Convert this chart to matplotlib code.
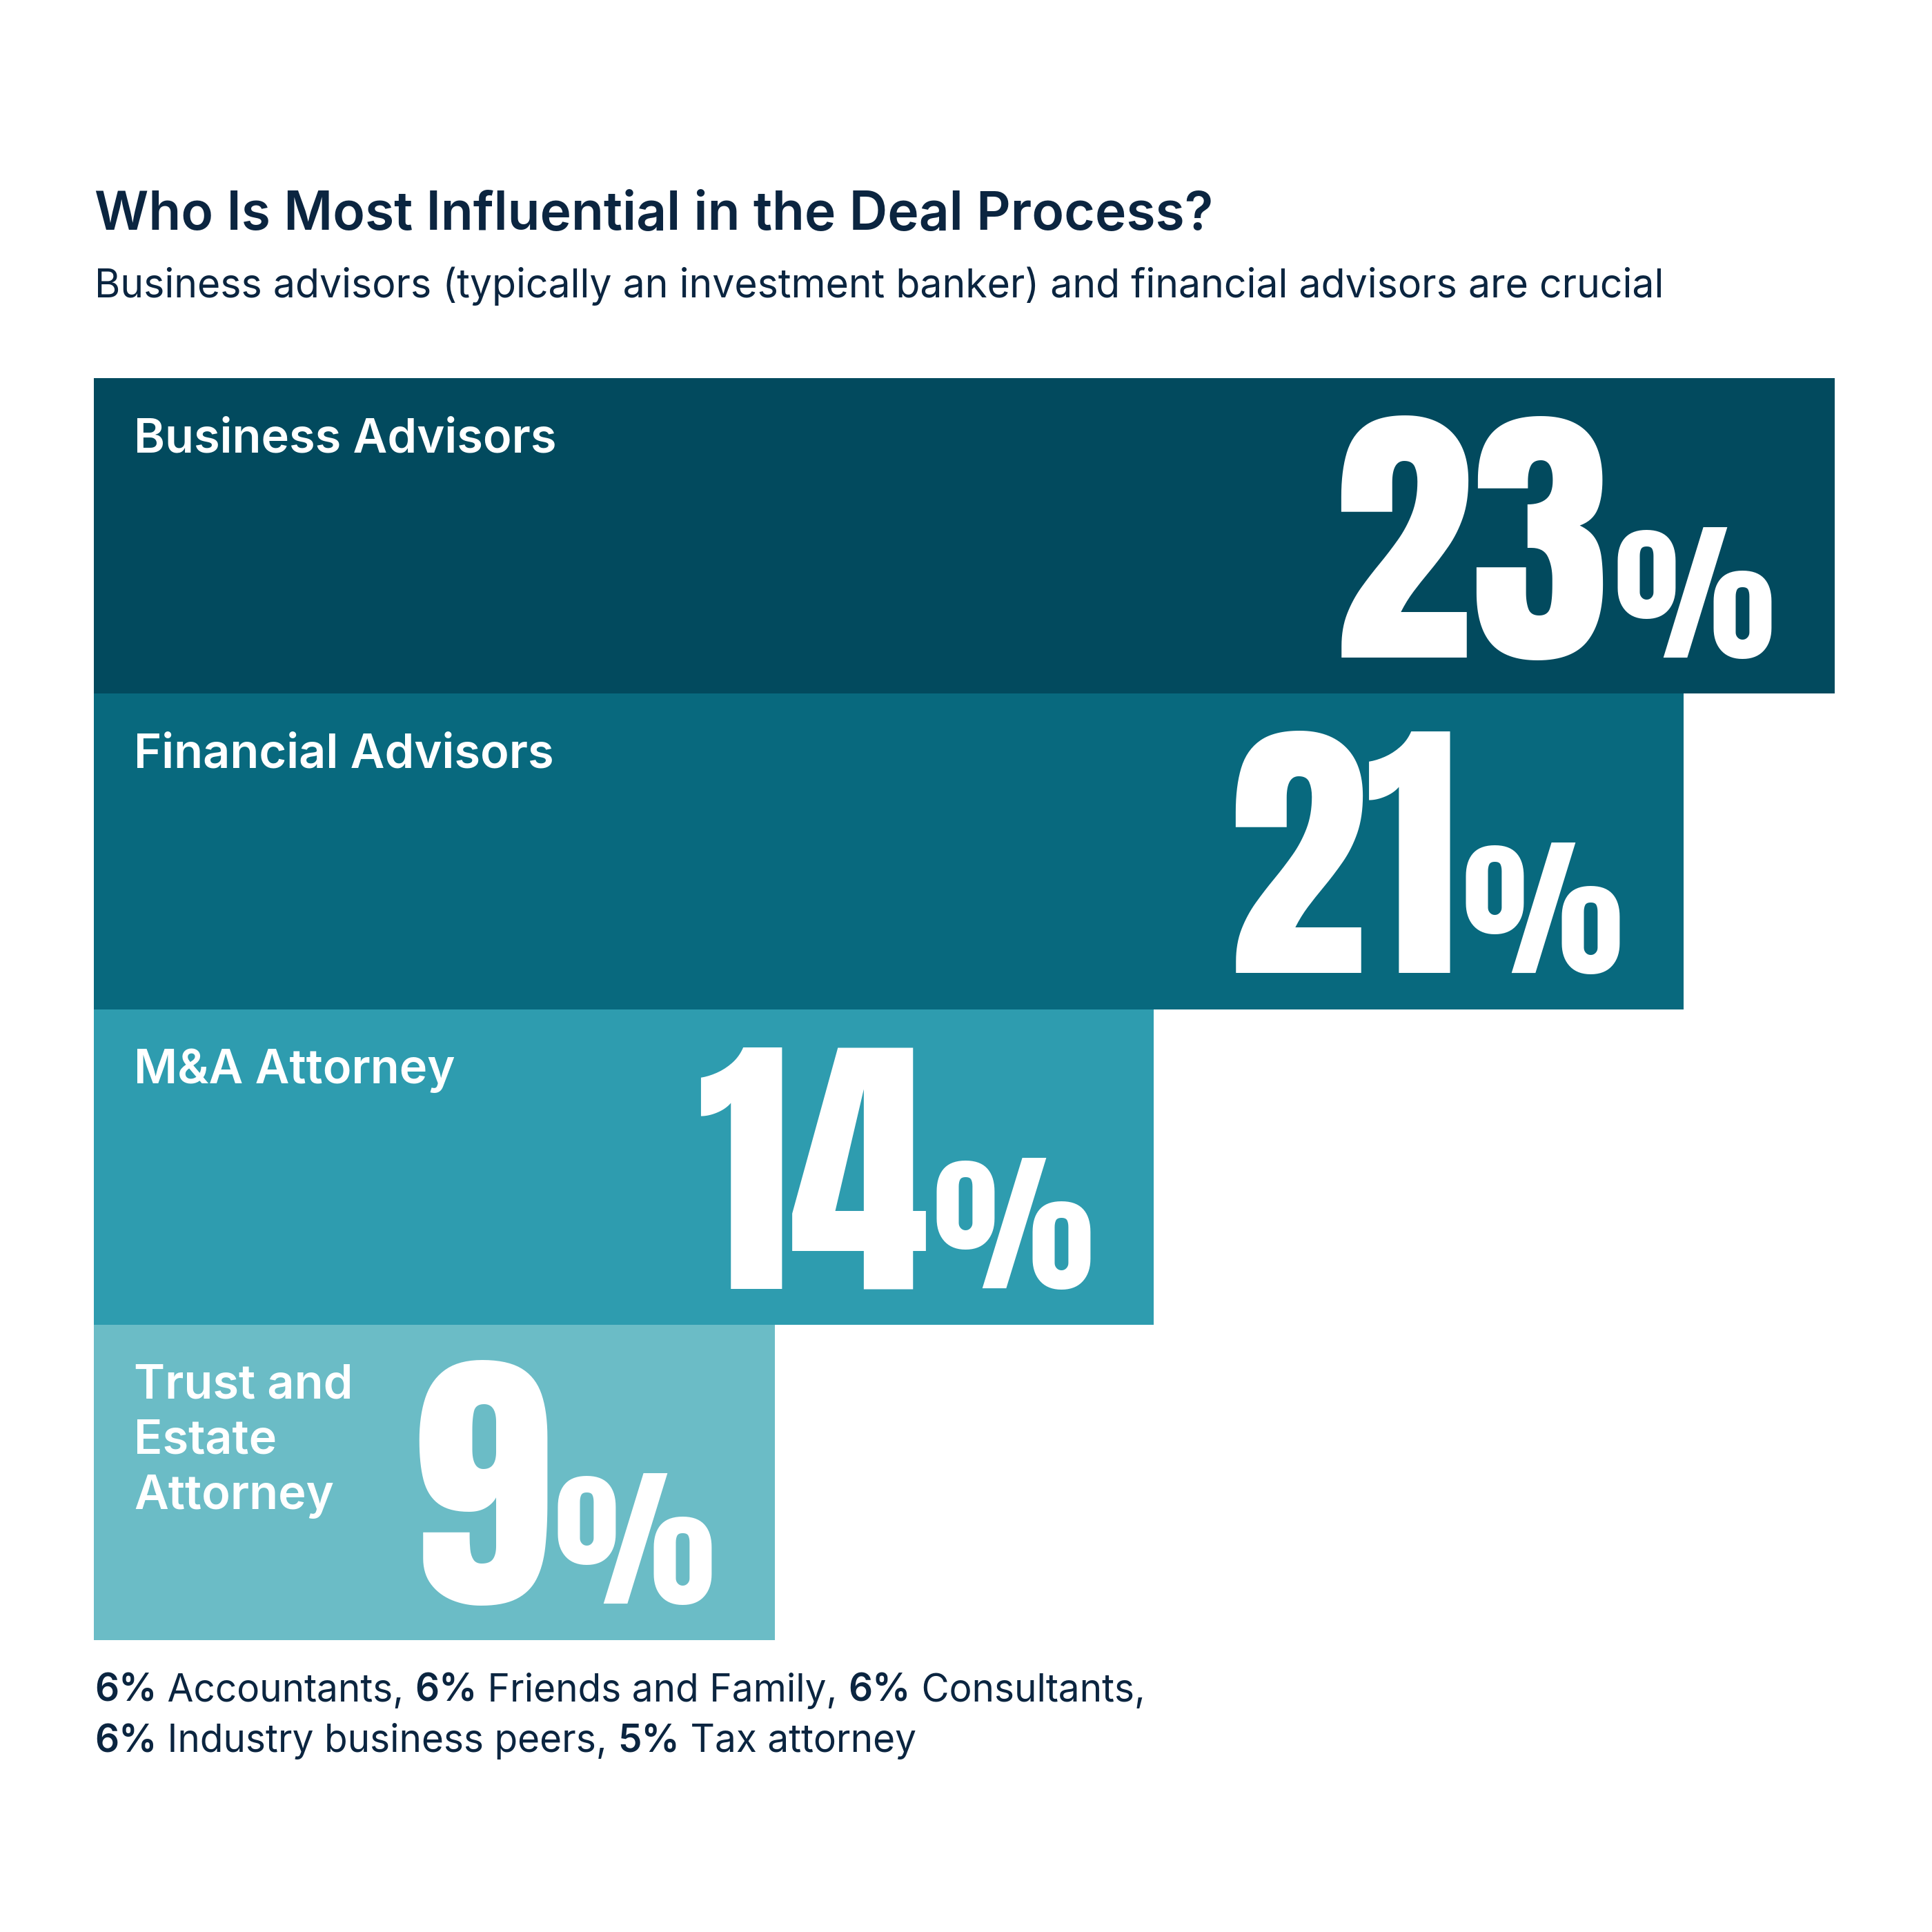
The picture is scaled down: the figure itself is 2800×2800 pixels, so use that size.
import matplotlib
matplotlib.use("Agg")
import matplotlib.pyplot as plt

# ---- data ----
categories = ["Business Advisors", "Financial Advisors", "M&A Attorney", "Trust and\nEstate\nAttorney"]
values = [23, 21, 14, 9]
bar_colors = ["#024A5E", "#08697E", "#2E9CAF", "#6BBCC6"]
title = "Who Is Most Influential in the Deal Process?"
subtitle = "Business advisors (typically an investment banker) and financial advisors are crucial"
other_values = [6, 6, 6, 6, 5]
other_labels = ["Accountants", "Friends and Family", "Consultants", "Industry business peers", "Tax attorney"]

NAVY = "#0B2540"
TXT_FONT = ["Inter", "Roboto", "DejaVu Sans"]
NUM_FONT = ["Anton", "Oswald", "DejaVu Sans"]

W = 2800
fig = plt.figure(figsize=(28, 28), dpi=100)
fig.patch.set_facecolor("white")

# canvas axes in pixel-like coordinates for free text
cax = fig.add_axes([0, 0, 1, 1])
cax.set_xlim(0, W)
cax.set_ylim(W, 0)
cax.axis("off")

# bar axes
left_px, right_px = 136, 2659
top_px, bottom_px = 548, 2377
ax = fig.add_axes([left_px / W, 1 - bottom_px / W, (right_px - left_px) / W, (bottom_px - top_px) / W])
ax.set_xlim(0, max(values))
ax.set_ylim(len(values) - 0.5, -0.5)
ax.axis("off")
ypos = list(range(len(values)))
ax.barh(ypos, values, height=1.0, color=bar_colors, linewidth=0)

for i, (cat, v) in enumerate(zip(categories, values)):
    ax.text(0.53, i - 0.5 + 0.125, cat, color="white", fontsize=49.3, fontweight="semibold",
            family=TXT_FONT, ha="left", va="top", linespacing=1.32)
    base_y = i + 0.5 - 0.115
    pct = ax.text(v - 0.8, base_y, "%", color="white", fontsize=158,
                  family=NUM_FONT, ha="right", va="baseline")
    ax.annotate(str(v), xy=(0, base_y), xycoords=(pct, "data"),
                xytext=(-6, 0), textcoords="offset pixels",
                color="white", fontsize=293, family=NUM_FONT,
                ha="right", va="baseline", annotation_clip=False)

# title & subtitle
cax.text(137, 333, title, color=NAVY, fontsize=55.3, fontweight="semibold", family=TXT_FONT,
         ha="left", va="baseline")
cax.text(137, 431, subtitle, color=NAVY, fontsize=41.2, family=TXT_FONT,
         ha="left", va="baseline")

# footnote with mixed weights
lines = [[], []]
for k, (v, lab) in enumerate(zip(other_values, other_labels)):
    line = 0 if k < 3 else 1
    sep = "," if k < len(other_values) - 1 else ""
    lines[line].append((f"{v}%", "semibold"))
    lines[line].append((f" {lab}{sep} ", "normal"))

baselines = [2466, 2539]
for li, pieces in enumerate(lines):
    prev = None
    for txt, wt in pieces:
        if prev is None:
            prev = cax.text(137, baselines[li], txt, color=NAVY, fontsize=39.6, fontweight=wt,
                            family=TXT_FONT, ha="left", va="baseline")
        else:
            prev = cax.annotate(txt, xy=(1, baselines[li]), xycoords=(prev, "data"),
                                color=NAVY, fontsize=39.6, fontweight=wt, family=TXT_FONT,
                                ha="left", va="baseline", annotation_clip=False)

fig.savefig("out.png", dpi=100, facecolor="white")
